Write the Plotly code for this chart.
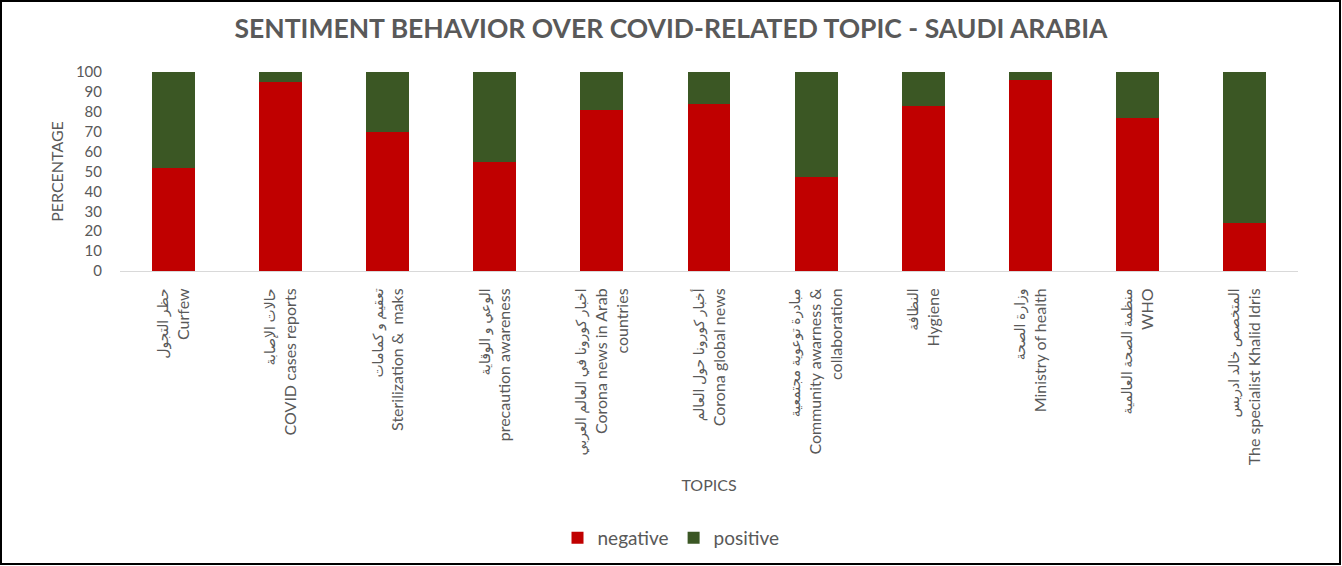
import plotly.graph_objects as go

topics_ar = ["حظر التجول", "حالات الإصابة", "تعقيم و كمامات", "الوعي و الوقاية",
             "اخبار كورونا في العالم العربي", "أخبار كورونا حول العالم", "مبادرة توعوية مجتمعية",
             "النظافة", "وزارة الصحة", "منظمة الصحة العالمية", "المتخصص خالد ادريس"]
topics_en = ["Curfew", "COVID cases reports", "Sterilization &  maks", "precaution awareness",
             "Corona news in Arab<br>countries", "Corona global news", "Community awarness &<br>collaboration",
             "Hygiene", "Ministry of health", "WHO", "The specialist Khalid Idris"]
negative = [52, 95, 70, 55, 81, 84, 47, 83, 96, 77, 24]
positive = [48, 5, 30, 45, 19, 16, 53, 17, 4, 23, 76]
y_ticks = [0, 10, 20, 30, 40, 50, 60, 70, 80, 90, 100]

cats = list(range(len(topics_en)))
tick_text = ['<span style="font-size:14px">' + a + "</span><br>" + e for a, e in zip(topics_ar, topics_en)]

FONT = "Lato, 'DejaVu Sans', sans-serif"
GRAY = "#595959"

fig = go.Figure()
fig.add_trace(go.Bar(x=cats, y=negative, name="negative", marker=dict(color="#C00000", line=dict(width=0))))
fig.add_trace(go.Bar(x=cats, y=positive, name="positive", marker=dict(color="#3B5724", line=dict(width=0))))

W, H = 1342, 566
ml, mr, mt, mb = 120, 44, 72, 295
pw, ph = W - ml - mr, H - mt - mb

def px(xp):
    return (xp - ml) / pw

def py(yp):
    return (H - mb - yp) / ph

fig.update_layout(
    width=W, height=H,
    barmode="stack", bargap=0.6,
    margin=dict(l=ml, r=mr, t=mt, b=mb, autoexpand=False),
    paper_bgcolor="white", plot_bgcolor="white",
    font=dict(family=FONT, color=GRAY, size=14),
    title=dict(text="<b>SENTIMENT BEHAVIOR OVER COVID-RELATED TOPIC - SAUDI ARABIA</b>",
               x=0.5, xref="container", xanchor="center",
               y=1 - 29 / H, yref="container", yanchor="middle",
               font=dict(family=FONT, size=26.5, color=GRAY)),
    xaxis=dict(tickmode="array", tickvals=cats, ticktext=tick_text, tickangle=-90,
               range=[-0.5, len(cats) - 0.5], showgrid=False, zeroline=False,
               showline=True, linecolor="#D9D9D9", linewidth=1,
               ticks="outside", ticklen=10, tickcolor="rgba(0,0,0,0)",
               tickfont=dict(size=16, color=GRAY),
               title=dict(text="TOPICS", font=dict(size=16, color=GRAY), standoff=15)),
    yaxis=dict(range=[0, 100], tickmode="array", tickvals=y_ticks, showgrid=False, zeroline=False,
               showline=False, ticks="outside", ticklen=14, tickcolor="rgba(0,0,0,0)",
               tickfont=dict(size=15, color=GRAY),
               title=dict(text="PERCENTAGE", font=dict(size=16, color=GRAY), standoff=8)),
    legend=dict(orientation="h", xref="container", yref="container", x=0.5, xanchor="center",
                y=1 - 538 / H, yanchor="middle", font=dict(size=19, color=GRAY),
                traceorder="normal", itemwidth=30),
    shapes=[dict(type="rect", xref="paper", yref="paper",
                 x0=px(1), x1=px(1340), y0=py(564), y1=py(1),
                 line=dict(color="black", width=2), fillcolor="rgba(0,0,0,0)", layer="above")],
)

fig.write_html("out.html", config={"displayModeBar": False},
               post_script="document.body.style.margin='0';document.body.style.overflow='hidden';")
